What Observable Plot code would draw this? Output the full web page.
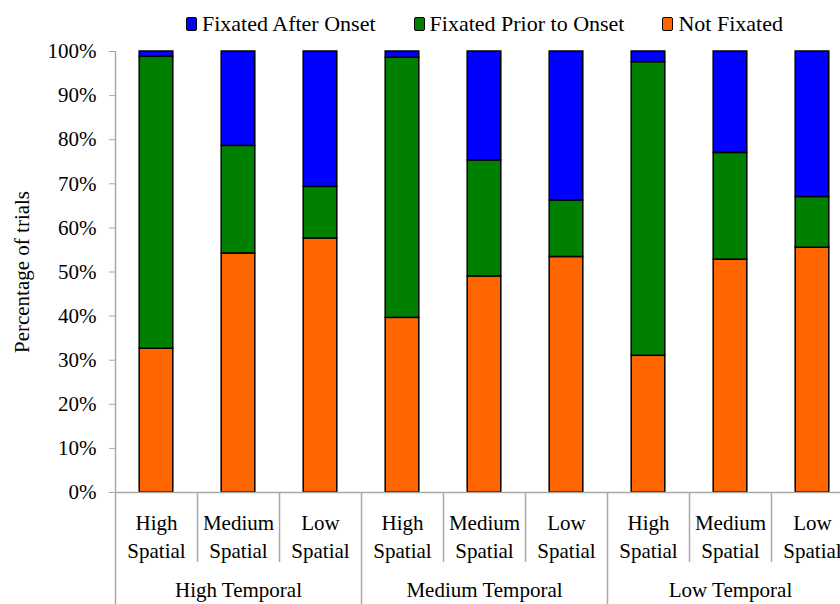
<!DOCTYPE html>
<html><head><meta charset="utf-8">
<script src="https://cdn.jsdelivr.net/npm/d3@7"></script>
<script src="https://cdn.jsdelivr.net/npm/@observablehq/plot@0.6"></script>
<style>
body{margin:0;background:#fff;width:840px;height:604px;overflow:hidden;font-family:"Liberation Serif","Times New Roman",serif;}
#legend{height:40px;font-size:22px;display:flex;align-items:center;padding-left:186px;padding-top:7px;box-sizing:border-box;white-space:nowrap;}
.item{display:flex;align-items:center;margin-right:38px;}
.sw{width:9px;height:12px;border:1.5px solid #000;border-radius:2px;margin-right:5px;}
</style></head><body>
<div id="legend"></div>
<div id="chart"></div>
<script>
const temporal = ["High Temporal", "Medium Temporal", "Low Temporal"];
const spatial = ["High\nSpatial", "Medium\nSpatial", "Low\nSpatial"];
const seriesNames = ["Not Fixated", "Fixated Prior to Onset", "Fixated After Onset"];
const seriesColors = ["#ff6600", "#008000", "#0000ff"];
const notFixated   = [32.6, 54.2, 57.6, 39.6, 49.0, 53.4, 31.0, 52.8, 55.5];
const fixatedPrior = [66.2, 24.4, 11.7, 59.0, 26.3, 12.8, 66.6, 24.2, 11.5];
const fixatedAfter = [1.2, 21.4, 30.7, 1.4, 24.7, 33.8, 2.4, 23.0, 33.0];
const yTicks = [0, 10, 20, 30, 40, 50, 60, 70, 80, 90, 100];

const seriesValues = [notFixated, fixatedPrior, fixatedAfter];
const rows = [];
seriesNames.forEach((s, k) => seriesValues[k].forEach((v, i) => rows.push({i, series: s, value: v})));
const idx = d3.range(9);

// legend (top), reverse order like the reference
const legend = document.getElementById("legend");
[2, 1, 0].forEach(k => {
  const it = document.createElement("div"); it.className = "item";
  const sw = document.createElement("span"); sw.className = "sw"; sw.style.background = seriesColors[k];
  const tx = document.createElement("span"); tx.textContent = seriesNames[k];
  it.appendChild(sw); it.appendChild(tx); legend.appendChild(it);
});

const gray = "#a8a8a8";
const chart = Plot.plot({
  width: 840, height: 564,
  marginLeft: 115, marginRight: 0, marginTop: 11, marginBottom: 112,
  style: {fontFamily: "Liberation Serif, Times New Roman, serif", fontSize: "21px", color: "#000", background: "#fff"},
  x: {type: "linear", domain: [0, 9], range: [115, 853], axis: null},
  y: {domain: [0, 100], axis: null},
  color: {domain: seriesNames, range: seriesColors},
  marks: [
    Plot.rectY(rows, {x1: d => d.i + 0.295, x2: d => d.i + 0.705, y: "value", fill: "series", stroke: "#000", strokeWidth: 1.5}),
    Plot.ruleY([0], {x1: 0, x2: 9, stroke: gray, strokeWidth: 1.5}),
    Plot.ruleX([0], {y1: 100, y2: 0, stroke: gray, strokeWidth: 1.5}),
    Plot.ruleX([1, 2, 4, 5, 7, 8], {x: d => d, y1: 0, y2: 0, insetBottom: -70, stroke: gray, strokeWidth: 1.5}),
    Plot.ruleX([0, 3, 6, 9], {x: d => d, y1: 0, y2: 0, insetBottom: -112, stroke: gray, strokeWidth: 1.5}),
    Plot.axisY({ticks: yTicks, tickFormat: d => d + "%", tickSize: 6, tickPadding: 13, stroke: gray, label: null}),
    Plot.text(idx, {x: d => d + 0.5, y: 0, text: d => spatial[d % 3], dy: 43, lineHeight: 1.33, lineAnchor: "middle", fill: "#000"}),
    Plot.text([0, 1, 2], {x: d => d * 3 + 1.5, y: 0, text: d => temporal[d], dy: 98, lineAnchor: "middle", fill: "#000"}),
    Plot.text(["Percentage of trials"], {frameAnchor: "left", rotate: -90, dx: -93, textAnchor: "middle", lineAnchor: "middle", fill: "#000"})
  ]
});
document.getElementById("chart").appendChild(chart);
</script>
</body></html>
